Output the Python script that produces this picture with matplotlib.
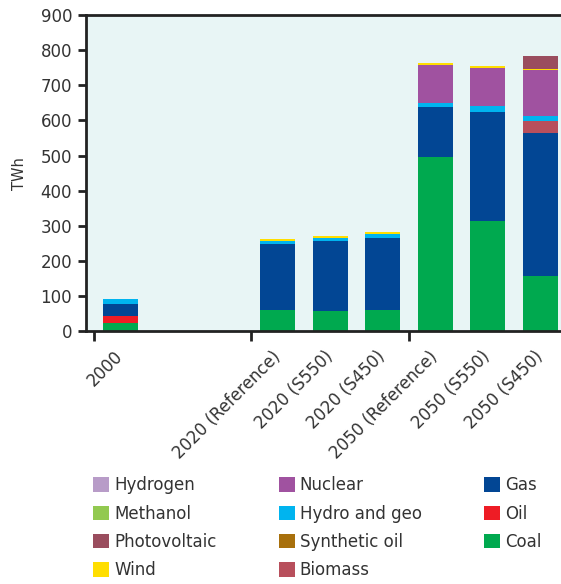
import matplotlib
matplotlib.use("Agg")
import matplotlib.pyplot as plt
from matplotlib.patches import Patch
import numpy as np

plt.rcParams['font.family'] = ['DejaVu Sans']

categories = ["2000", "2020 (Reference)", "2020 (S550)", "2020 (S450)",
              "2050 (Reference)", "2050 (S550)", "2050 (S450)"]
positions = [0, 3, 4, 5, 6, 7, 8]

# stacked from bottom to top
coal       = [24, 61, 58, 61, 497, 315, 158]
oil        = [21, 0, 0, 0, 0, 0, 0]
gas        = [33, 188, 199, 205, 142, 308, 407]
biomass    = [0, 0, 0, 0, 0, 0, 34]
synth_oil  = [0, 0, 0, 0, 0, 0, 0]
hydro      = [14, 8.5, 8.5, 11, 11, 17, 14]
nuclear    = [0, 0, 0, 0, 108, 108, 131]
wind       = [0, 6, 6, 6, 6, 6, 3]
pv         = [0, 0, 0, 0, 0, 0, 37]
methanol   = [0, 0, 0, 0, 0, 0, 0]
hydrogen   = [0, 0, 0, 0, 0, 0, 0]

series = [
    ("Coal", coal, "#00a94f"),
    ("Oil", oil, "#ee1c25"),
    ("Gas", gas, "#024694"),
    ("Biomass", biomass, "#b84f5c"),
    ("Synthetic oil", synth_oil, "#a8700c"),
    ("Hydro and geo", hydro, "#00b4ef"),
    ("Nuclear", nuclear, "#a052a0"),
    ("Wind", wind, "#ffde00"),
    ("Photovoltaic", pv, "#9a4d5e"),
    ("Methanol", methanol, "#92c950"),
    ("Hydrogen", hydrogen, "#b89cc8"),
]
legend_order = ["Hydrogen", "Methanol", "Photovoltaic", "Wind",
                "Nuclear", "Hydro and geo", "Synthetic oil", "Biomass",
                "Gas", "Oil", "Coal"]

fig = plt.figure(figsize=(5.61, 5.84), dpi=100)
ax = fig.add_axes([0.1533, 0.4324, 0.861, 0.5419])
ax.set_facecolor("#e8f5f5")

bottom = np.zeros(len(categories))
colors = {}
for name, vals, col in series:
    v = np.array(vals, dtype=float)
    ax.bar(positions, v, bottom=bottom, width=0.67, color=col, linewidth=0)
    bottom += v
    colors[name] = col

ax.set_ylim(0, 900)
ax.set_xlim(-0.65, 8.55)
ax.set_yticks(range(0, 901, 100))
ax.tick_params(axis='y', labelsize=12, length=6, width=2, pad=4,
               colors="#222222", labelcolor="#333333")
ax.set_ylabel("TWh", fontsize=10.5, color="#333333", labelpad=10)

ax.set_xticks([-0.5, 2.5, 5.5, 8.5])
ax.set_xticklabels([])
ax.tick_params(axis='x', which='major', length=7, width=2, colors="#222222")
ax.set_xticks(positions, minor=True)
ax.set_xticklabels(categories, minor=True, rotation=45, ha='right', va='center',
                   rotation_mode='anchor', fontsize=12, color="#333333")
ax.tick_params(axis='x', which='minor', length=0, pad=16)

for s in ["left", "bottom", "top"]:
    ax.spines[s].set_linewidth(2)
    ax.spines[s].set_color("#222222")
ax.spines["right"].set_visible(False)

handles = [Patch(facecolor=colors[n], edgecolor='none', label=n) for n in legend_order]
fig.legend(handles=handles, loc='upper left', bbox_to_anchor=(0.1515, 0.1986),
           ncol=3, frameon=False, fontsize=12, handlelength=0.95, handleheight=0.95,
           handletextpad=0.3, columnspacing=3.75, labelspacing=0.62, borderpad=0,
           labelcolor="#333333")

fig.savefig("out.png", dpi=100)
